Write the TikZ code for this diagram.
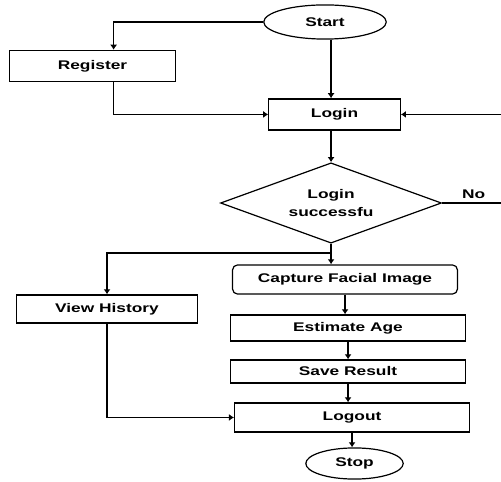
\documentclass[tikz,border=0pt]{standalone}
\usepackage{fontspec}
\setsansfont{Liberation Sans}[FakeStretch=1.38]
\usetikzlibrary{arrows.meta}
\usetikzlibrary{shapes}

\begin{document}
\begin{tikzpicture}[scale = 3.5, font=\sffamily\bfseries\fontsize{12.5}{17}\selectfont, line width = 1.2pt]
	\tikzstyle{terminalStyle} = [shape = ellipse, draw, inner sep = 0pt]
	\tikzstyle{processStyle} = [shape = rectangle, draw, inner sep = 0pt]
	\tikzstyle{captureStyle} = [shape = rectangle, rounded corners = 5pt, draw, inner sep = 0pt]
	\tikzstyle{decisionStyle} = [shape = diamond, aspect = 2.75, draw, inner sep = 0pt, align = center]
	\tikzstyle{flowStyle} = [-{Latex[length = 5pt, width = 7pt]}]
	\useasboundingbox (0, 0) rectangle (5.01, 4.81);
	\node[terminalStyle, minimum width = 122pt, minimum height = 34pt] (start) at (3.25, 4.59) {Start};
	\node[processStyle, minimum width = 165pt, minimum height = 31pt] (register) at (0.925, 4.15) {Register};
	\node[processStyle, minimum width = 131pt, minimum height = 31pt] (login) at (3.345, 3.665) {Login};
	\node[decisionStyle, minimum width = 220pt, minimum height = 80pt] (dia) at (3.31, 2.78) {Login\\successfu};
	\node[captureStyle, minimum width = 224pt, minimum height = 29pt] (capture) at (3.45, 2.015) {Capture Facial Image};
	\node[processStyle, minimum width = 180pt, minimum height = 28pt] (history) at (1.07, 1.72) {View History};
	\node[processStyle, minimum width = 234pt, minimum height = 26pt] (estimate) at (3.48, 1.53) {Estimate Age};
	\node[processStyle, minimum width = 234pt, minimum height = 23pt] (save) at (3.48, 1.095) {Save Result};
	\node[processStyle, minimum width = 234pt, minimum height = 29pt] (logout) at (3.52, 0.635) {Logout};
	\node[terminalStyle, minimum width = 97pt, minimum height = 31pt] (stop) at (3.545, 0.175) {Stop};
	\coordinate (split) at (3.31, 2.28);
	\coordinate (back) at (5.05, 2.78);
	\draw[flowStyle] (start.west) -| ([xshift = 6pt]register.north);
	\draw[flowStyle] (start.south -| dia.north) -- (login.north -| dia.north);
	\draw[flowStyle] ([xshift = 6pt]register.south) |- (login.west);
	\draw[flowStyle] (login.south -| dia.north) -- (dia.north);
	\draw[flowStyle] (dia.east) -- node[above] {No} (back |- dia.east) -- (back |- login.east) -- (login.east);
	\draw[flowStyle] (dia.south) -- (dia.south |- capture.north);
	\draw[flowStyle] (split) -| (history.north);
	\draw[flowStyle] (capture.south) -- (capture.south |- estimate.north);
	\draw[flowStyle] (estimate.south) -- (save.north);
	\draw[flowStyle] (save.south) -- (save.south |- logout.north);
	\draw[flowStyle] (history.south) |- (logout.west);
	\draw[flowStyle] (logout.south) -- (logout.south |- stop.north);
\end{tikzpicture}
\end{document}
